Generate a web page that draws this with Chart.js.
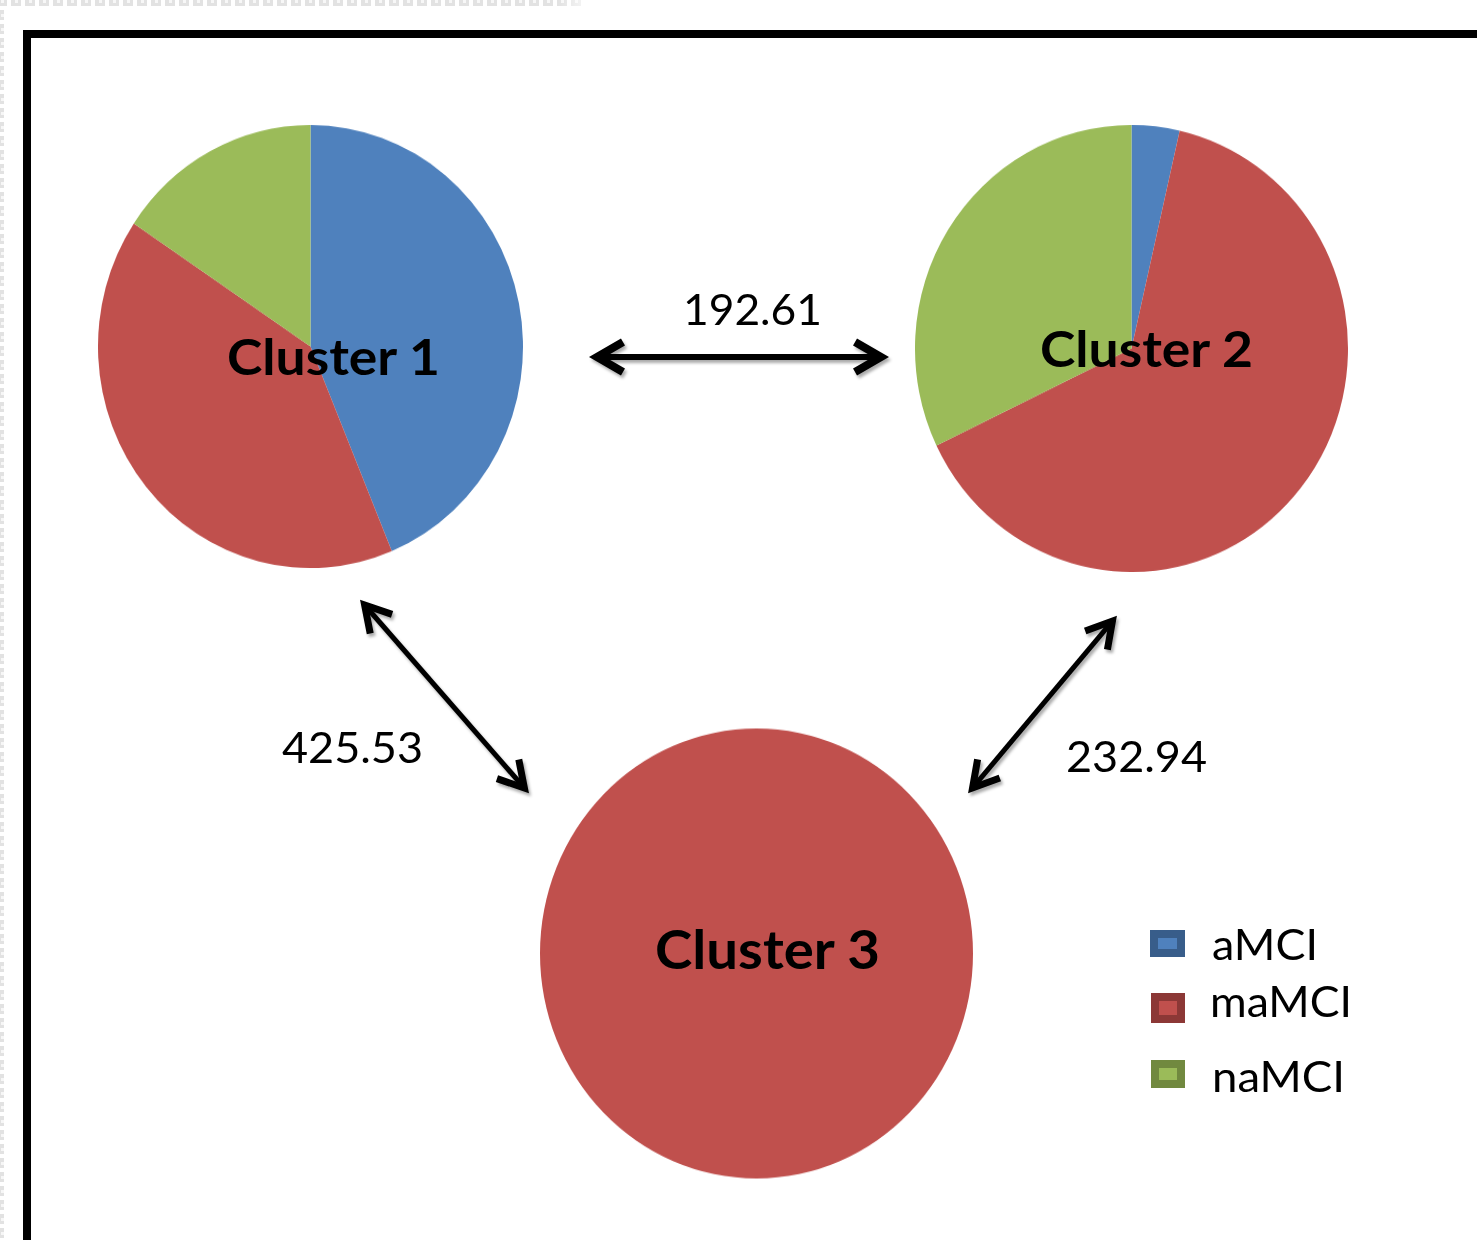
<!DOCTYPE html>
<html>
<head>
<meta charset="utf-8">
<script src="https://cdn.jsdelivr.net/npm/chart.js@4.4.1/dist/chart.umd.min.js"></script>
<style>
  html, body { margin: 0; padding: 0; background: #fff; }
  #stage { position: relative; width: 1477px; height: 1240px; overflow: hidden; background: #fff; }
  .frame { position: absolute; left: 23px; top: 30px; width: 1500px; height: 1300px;
           border-left: 8px solid #000; border-top: 8px solid #000; }
  .pie { position: absolute; }
  .pie canvas { display: block; }
  #overlay { position: absolute; left: 0; top: 0; pointer-events: none; }
</style>
</head>
<body>
<div id="stage">
  <div class="frame"></div>
  <div id="pies"></div>
  <svg id="overlay" width="1477" height="1240" xmlns="http://www.w3.org/2000/svg"></svg>
</div>
<script>
// Group composition of each cluster (subject counts per MCI subtype)
const categories = ['aMCI', 'maMCI', 'naMCI'];
const clusterNames = ['Cluster 1', 'Cluster 2', 'Cluster 3'];
const cluster1 = [28, 26, 10];
const cluster2 = [1, 18, 9];
const cluster3 = [0, 31, 0];
// Distances between cluster centroids
const distances = ['192.61', '425.53', '232.94'];

const sliceColors = ['#4F81BD', '#C0504D', '#9BBB59'];
const swatchEdges = ['#385D8A', '#8C3836', '#71893F'];

// Placement of each pie: centre and horizontal / vertical radius
const pieLayout = [
  { cx: 310.5, cy: 346.5, rx: 212.5, ry: 221.5 },
  { cx: 1131.5, cy: 348.5, rx: 216.5, ry: 223.5 },
  { cx: 756.5, cy: 953, rx: 216.5, ry: 225 }
];
const clusterValues = [cluster1, cluster2, cluster3];

const piesHost = document.getElementById('pies');
clusterValues.forEach((values, i) => {
  const L = pieLayout[i];
  const size = Math.round(L.rx * 2);
  const box = document.createElement('div');
  box.className = 'pie';
  box.style.left = (L.cx - size / 2) + 'px';
  box.style.top = (L.cy - size / 2) + 'px';
  box.style.width = size + 'px';
  box.style.height = size + 'px';
  box.style.transformOrigin = '50% 50%';
  box.style.transform = 'scaleY(' + (L.ry / L.rx).toFixed(4) + ')';
  const cv = document.createElement('canvas');
  cv.width = size; cv.height = size;
  box.appendChild(cv);
  piesHost.appendChild(box);
  new Chart(cv, {
    type: 'pie',
    data: {
      labels: categories,
      datasets: [{
        label: clusterNames[i],
        data: values,
        backgroundColor: sliceColors,
        borderWidth: 0,
        hoverOffset: 0,
        offset: 0
      }]
    },
    options: {
      responsive: false,
      animation: false,
      events: [],
      layout: { padding: 0 },
      plugins: { legend: { display: false }, tooltip: { enabled: false } }
    }
  });
});

// Annotations: labels, distance arrows, legend
const NS = 'http://www.w3.org/2000/svg';
const svg = document.getElementById('overlay');
function el(name, attrs, parent) {
  const e = document.createElementNS(NS, name);
  for (const k in attrs) e.setAttribute(k, attrs[k]);
  (parent || svg).appendChild(e);
  return e;
}

const defs = el('defs', {});
const pat = el('pattern', { id: 'chk', width: 14, height: 14, patternUnits: 'userSpaceOnUse', x: -3, y: -4 }, defs);
el('rect', { x: 0, y: 0, width: 14, height: 14, fill: '#ffffff' }, pat);
el('rect', { x: 0, y: 0, width: 10, height: 10, fill: '#e2e2e2' }, pat);
el('rect', { x: 4, y: 4, width: 3, height: 3, fill: '#f7f7f7' }, pat);
const fade = el('linearGradient', { id: 'fade', x1: 0, x2: 1, y1: 0, y2: 0 }, defs);
el('stop', { offset: '0.96', 'stop-color': '#fff', 'stop-opacity': 0 }, fade);
el('stop', { offset: '1', 'stop-color': '#fff', 'stop-opacity': 0.6 }, fade);
const sh = el('filter', { id: 'sh', filterUnits: 'userSpaceOnUse', x: 0, y: 0, width: 1477, height: 1240 }, defs);
el('feDropShadow', { dx: 2, dy: 3, stdDeviation: 1.6, 'flood-color': '#000', 'flood-opacity': 0.33 }, sh);

// transparent-background strips at the edge of the page
el('rect', { x: 0, y: 0, width: 582, height: 10, fill: 'url(#chk)' });
el('rect', { x: 0, y: 0, width: 582, height: 10, fill: 'url(#fade)' });
el('rect', { x: 0, y: 0, width: 4, height: 1240, fill: 'url(#chk)' });

function arrow(x1, y1, x2, y2, w, head) {
  const g = el('g', { filter: 'url(#sh)', stroke: '#000', fill: 'none',
                      'stroke-linejoin': 'miter', 'stroke-linecap': 'butt' });
  const dx = x2 - x1, dy = y2 - y1, len = Math.hypot(dx, dy);
  const ux = dx / len, uy = dy / len;
  el('line', { x1: x1 + ux * 4, y1: y1 + uy * 4, x2: x2 - ux * 4, y2: y2 - uy * 4, 'stroke-width': w }, g);
  const a = 30 * Math.PI / 180;
  [[x1, y1, ux, uy], [x2, y2, -ux, -uy]].forEach(([tx, ty, vx, vy]) => {
    const c = Math.cos(a), s = Math.sin(a);
    const ax = vx * c - vy * s, ay = vx * s + vy * c;
    const bx = vx * c + vy * s, by = -vx * s + vy * c;
    // pull the tip in so the mitred point lands on the end coordinate
    const px = tx + vx * 4, py = ty + vy * 4;
    el('polyline', { points: [px + ax * head, py + ay * head, px, py, px + bx * head, py + by * head].join(' '),
                     'stroke-width': w + 2 }, g);
  });
}
arrow(593, 357, 885, 357, 6, 30);
arrow(362, 602, 527, 791, 5, 29);
arrow(1115, 618, 970, 791, 5, 29);

function label(text, x, y, size, len, weight) {
  const t = el('text', { x: x, y: y, 'font-family': 'Lato, "Open Sans", sans-serif', 'font-size': size,
                         'font-weight': weight, fill: '#000', textLength: len, lengthAdjust: 'spacingAndGlyphs' });
  t.textContent = text;
}
label(clusterNames[0], 227, 375, 50, 213, 700);
label(clusterNames[1], 1040, 367, 50, 213, 700);
label(clusterNames[2], 655, 969, 53, 225, 700);

label(distances[0], 683, 325, 43, 139, 400);
label(distances[1], 282, 763, 43, 141, 400);
label(distances[2], 1066, 772, 43, 141, 400);

// legend
const legendRows = [
  { box: [1154, 934, 27, 19], tx: 1212, ty: 960, len: 106 },
  { box: [1155, 997, 26, 22], tx: 1210, ty: 1017, len: 142 },
  { box: [1155, 1064, 26, 20], tx: 1212, ty: 1092, len: 133 }
];
categories.forEach((name, i) => {
  const r = legendRows[i];
  el('rect', { x: r.box[0], y: r.box[1], width: r.box[2], height: r.box[3], fill: sliceColors[i],
               stroke: swatchEdges[i], 'stroke-width': 8 });
  label(name, r.tx, r.ty, 42, r.len, 400);
});
</script>
</body>
</html>
